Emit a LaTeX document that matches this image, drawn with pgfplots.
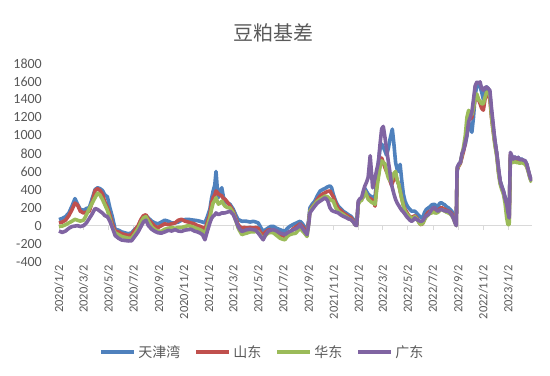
\documentclass[border=0pt]{standalone}
\usepackage{fontspec}
\setmainfont{Carlito}
\newfontfamily\cjk{Noto Sans CJK SC}
\usepackage{pgfplots}
\usepackage{pgfplotstable}
\pgfplotsset{compat=1.18}
\definecolor{cB}{HTML}{4F81BD}
\definecolor{cR}{HTML}{C0504D}
\definecolor{cG}{HTML}{9BBB59}
\definecolor{cP}{HTML}{8064A2}
\definecolor{tgrey}{HTML}{595959}
\definecolor{axgrey}{HTML}{D9D9D9}
\pgfplotstableread{
d B R G P
0 67 30 -10 -60
8 80 40 -5 -75
16 100 60 10 -60
24 140 110 30 -30
32 220 180 50 -10
39 300 250 70 -5
45 240 230 60 0
52 180 160 50 -10
60 170 140 60 0
67 190 150 120 30
74 200 160 190 80
81 300 260 250 130
88 400 390 310 190
94 420 410 360 180
100 410 390 340 160
106 390 350 290 140
112 340 260 230 110
118 320 200 170 100
124 200 120 80 50
130 100 20 -20 -20
137 -40 -60 -80 -110
145 -50 -70 -100 -140
153 -70 -90 -120 -160
161 -80 -100 -130 -165
169 -90 -110 -140 -170
177 -80 -100 -140 -168
185 -40 -50 -90 -120
193 -8 0 -30 -70
200 60 70 40 -10
206 100 110 85 40
212 110 120 100 60
218 85 70 50 0
226 50 30 -10 -40
234 30 -10 -45 -64
242 20 -20 -60 -80
250 40 0 -64 -83
258 60 20 -40 -70
267 48 10 -30 -52
275 30 20 -20 -60
283 30 30 -30 -45
291 40 60 -20 -60
299 60 70 -20 -64
307 67 50 -10 -50
315 70 40 0 -45
322 65 30 -8 -40
330 60 20 -20 -60
338 55 0 -35 -70
344 48 -8 -45 -83
350 40 -20 -60 -100
356 30 -45 -100 -157
362 100 40 0 -60
368 182 126 85 30
372 300 250 180 80
376 384 310 253 104
380 450 340 280 120
383 600 384 310 141
386 420 370 270 130
389 310 350 238 123
393 380 340 250 130
397 420 330 272 141
401 320 300 240 140
405 272 293 216 141
411 250 260 200 150
417 238 220 197 160
421 210 190 170 140
425 182 160 141 123
431 120 80 60 60
437 67 11 -27 -8
441 60 -10 -60 -40
446 48 -27 -100 -64
452 50 -20 -90 -55
458 48 -27 -83 -45
466 40 -20 -70 -40
474 48 -27 -70 -45
480 40 -20 -65 -50
486 30 -30 -70 -83
492 -20 -80 -110 -120
498 -64 -100 -139 -157
504 -45 -70 -110 -100
510 -27 -50 -83 -64
516 -10 -45 -75 -50
523 -8 -60 -80 -45
531 -30 -80 -110 -60
539 -45 -100 -139 -83
545 -55 -110 -150 -90
551 -64 -120 -157 -100
557 -30 -100 -120 -80
563 -8 -83 -100 -64
570 10 -40 -90 -50
577 25 -15 -85 -35
584 40 5 -50 -15
588 48 20 -30 11
594 20 -10 -60 -30
600 -20 -50 -90 -70
605 -50 -80 -120 -100
609 60 40 20 10
612 197 160 160 141
618 240 210 200 180
624 272 238 238 216
630 330 290 270 250
637 384 328 293 272
643 400 350 310 290
649 413 365 328 309
655 430 380 320 280
661 440 384 293 197
665 420 350 280 170
669 346 320 272 160
675 270 250 200 150
681 216 190 160 141
687 190 170 140 120
693 160 140 123 104
700 140 120 100 90
706 120 100 80 75
712 104 90 67 67
718 70 50 40 40
722 30 20 10 10
726 10 5 0 0
730 250 250 240 272
734 290 280 270 300
738 293 290 280 309
742 330 320 320 380
746 413 380 384 440
750 380 340 340 480
754 350 310 293 533
759 330 300 272 775
762 320 290 260 600
765 310 280 253 420
768 320 260 245 480
771 328 216 238 533
775 500 450 400 620
779 700 560 533 700
783 850 700 650 900
787 905 750 719 1073
791 870 700 700 1100
795 830 644 685 980
799 780 600 600 850
803 850 571 533 719
807 950 500 500 600
811 1030 450 500 460
813 1070 470 530 420
817 900 520 580 350
821 700 560 600 290
825 620 500 500 250
829 600 450 450 220
832 680 384 384 197
836 500 300 300 170
840 350 230 220 150
844 272 180 160 126
848 230 150 130 100
852 200 120 110 80
856 180 100 95 60
860 160 90 85 48
864 160 100 80 60
868 160 110 100 85
872 140 90 80 70
876 120 60 50 60
880 100 20 20 50
884 90 10 15 48
888 100 30 30 60
892 150 80 70 90
896 180 120 100 110
901 197 150 120 123
905 210 160 140 150
909 230 170 140 180
913 235 180 150 200
917 235 170 141 197
921 200 160 140 170
925 220 170 150 160
929 250 190 170 175
933 253 200 180 179
937 240 190 170 170
941 230 180 160 165
945 210 170 150 160
950 197 160 140 160
954 180 150 130 140
958 160 130 110 120
962 120 100 80 80
966 50 40 30 30
969 10 5 0 0
971 600 620 630 644
975 680 660 670 682
979 700 690 700 700
983 780 760 790 800
987 850 830 880 840
991 900 920 1000 930
995 1000 1100 1200 1000
999 1150 1200 1278 1150
1003 1100 1180 1250 1200
1007 1035 1200 1230 1259
1011 1200 1300 1300 1400
1015 1450 1400 1420 1550
1019 1550 1450 1460 1590
1023 1560 1400 1400 1580
1027 1540 1353 1380 1594
1031 1480 1300 1350 1520
1035 1400 1280 1353 1502
1039 1500 1400 1420 1530
1043 1538 1480 1480 1538
1047 1520 1450 1480 1520
1051 1450 1400 1450 1500
1055 1250 1200 1200 1300
1059 1091 1050 1050 1129
1063 950 920 900 950
1068 794 780 760 794
1072 620 600 580 640
1076 496 480 460 496
1080 440 420 400 430
1084 384 370 350 384
1088 320 290 250 300
1092 240 200 85 235
1095 150 100 11 150
1098 100 60 11 85
1101 780 790 760 812
1104 770 760 740 780
1108 738 730 700 738
1112 760 740 710 760
1116 740 720 700 740
1120 756 720 700 756
1124 730 710 690 730
1128 740 720 700 735
1133 720 700 690 725
1137 719 700 680 719
1141 680 660 650 680
1145 607 600 590 607
1149 540 530 520 540
1153 496 490 480 496
}\basis

\begin{document}
\begin{tikzpicture}
\path[use as bounding box] (0bp,0bp) rectangle (550bp,376bp);
\node[font=\cjk\fontsize{20bp}{24bp}\selectfont, text=tgrey] at (273bp,343bp) {豆粕基差};
\begin{axis}[
  at={(58bp,114.3bp)}, anchor=south west,
  scale only axis, width=474bp, height=198.4bp,
  xmin=-2.4, xmax=1153.7, ymin=-400, ymax=1800,
  axis line style={draw=none},
  major tick length=0pt,
  ytick={-400,-200,...,1800},
  xtick={0,60,121,182,244,305,366,425,486,547,609,670,731,790,851,912,974,1035,1096},
  xticklabels={2020/1/2,2020/3/2,2020/5/2,2020/7/2,2020/9/2,2020/11/2,2021/1/2,2021/3/2,2021/5/2,2021/7/2,2021/9/2,2021/11/2,2022/1/2,2022/3/2,2022/5/2,2022/7/2,2022/9/2,2022/11/2,2023/1/2},
  /pgf/number format/assume math mode=true,
  /pgf/number format/1000 sep={},
  yticklabel style={font=\fontsize{14bp}{16bp}\selectfont, text=tgrey, anchor=east, inner sep=0pt, xshift=-16bp},
  xticklabel style={font=\fontsize{12.5bp}{14bp}\selectfont, text=tgrey, rotate=90, anchor=east, inner sep=3.3bp},
  legend image code/.code={\draw[#1, line width=4bp] (0bp,0bp) -- (33bp,0bp);},
  legend style={at={(0.4314,-0.4551)}, anchor=center, draw=none, fill=none,
    legend columns=4, font=\cjk\fontsize{14bp}{16bp}\selectfont, text=tgrey,
    inner sep=0pt, nodes={inner sep=2bp},
    /tikz/every even column/.append style={column sep=12bp}},
  every axis plot/.append style={line width=3.6bp, line join=round, no marks},
]
\addplot[forget plot, color=axgrey, line width=0.8bp] coordinates {(-2.4,0) (1153.7,0)};
\pgfplotsinvokeforeach{0,60,121,182,244,305,366,425,486,547,609,670,731,790,851,912,974,1035,1096}{
  \draw[axgrey, line width=0.8bp] (axis cs:#1,0) -- ([yshift=-4bp]axis cs:#1,0);
}
\addplot[color=cB] table[x=d, y=B] {\basis};
\addlegendentry{天津湾}
\addplot[color=cR] table[x=d, y=R] {\basis};
\addlegendentry{山东}
\addplot[color=cG] table[x=d, y=G] {\basis};
\addlegendentry{华东}
\addplot[color=cP] table[x=d, y=P] {\basis};
\addlegendentry{广东}
\end{axis}
\end{tikzpicture}
\end{document}
